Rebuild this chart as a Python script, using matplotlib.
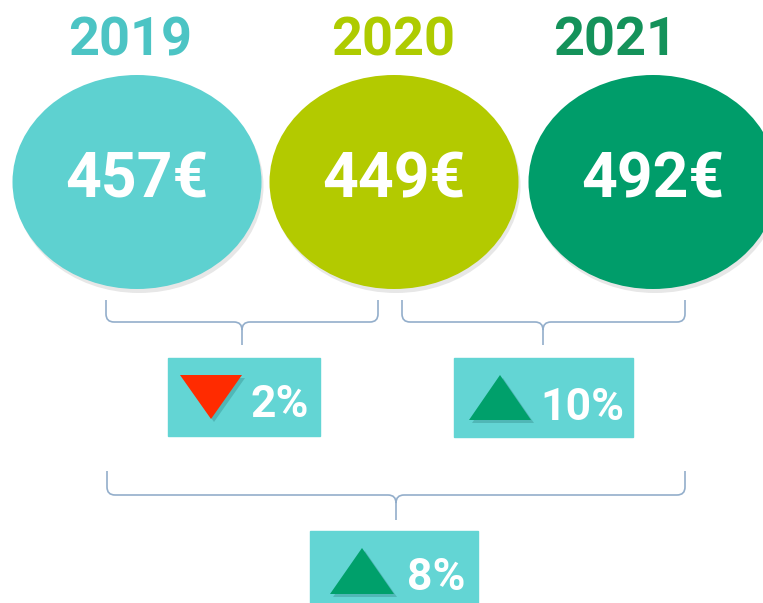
import matplotlib.pyplot as plt
from matplotlib.patches import Ellipse, Rectangle, Polygon, PathPatch
from matplotlib.path import Path

# data
years = ['2019', '2020', '2021']
amounts = [457, 449, 492]
changes = [-2, 10, 8]          # 2019->2020, 2020->2021, 2019->2021

ellipse_colors = ['#5ED1D0', '#B3CA00', '#009D6A']
year_colors = ['#4CC4C4', '#AECB00', '#14925A']
box_color = '#63D5D4'
up_color = '#00A06B'
down_color = '#FF2B00'
brace_color = '#93AECB'

FONT = ['Roboto', 'DejaVu Sans']

# layout (pixel space)
ell_x = [137, 394, 653]
ell_y = 182
ell_w, ell_h = 249, 214
year_x = [130, 393, 615]
brace_specs = [(106, 378, 242, 300, 322, 345),
               (402, 685, 543, 300, 322, 345),
               (107, 685, 396, 471, 495, 520)]
# box x, y, w, h, triangle offset, text gap, text baseline
box_specs = [(168, 358, 152, 78, 12, 8, 417),
             (454, 358, 179, 79, 15, 9, 420),
             (310, 531, 168, 80, 20, 13, 590)]


def brace(ax, x0, x1, xm, yt, yh, yb, r=8):
    verts = [(x0, yt), (x0, yh - r), (x0, yh), (x0 + r, yh),
             (xm - r, yh), (xm, yh), (xm, yh + r), (xm, yb),
             (xm, yh + r), (xm, yh), (xm + r, yh),
             (x1 - r, yh), (x1, yh), (x1, yh - r), (x1, yt)]
    codes = [Path.MOVETO, Path.LINETO, Path.CURVE3, Path.CURVE3,
             Path.LINETO, Path.CURVE3, Path.CURVE3, Path.LINETO,
             Path.MOVETO, Path.CURVE3, Path.CURVE3,
             Path.LINETO, Path.CURVE3, Path.CURVE3, Path.LINETO]
    ax.add_patch(PathPatch(Path(verts, codes), fill=False,
                           edgecolor=brace_color, lw=1.2))


def change_box(ax, spec, value, tri_w, tri_h):
    bx, by, bw, bh, toff, gap, base = spec
    ax.add_patch(Rectangle((bx, by), bw, bh, color=box_color, zorder=2))
    tx = bx + toff
    ty = by + bh / 2
    if value < 0:
        pts = [(tx, ty - tri_h / 2), (tx + tri_w, ty - tri_h / 2), (tx + tri_w / 2, ty + tri_h / 2)]
        col = down_color
    else:
        pts = [(tx, ty + tri_h / 2), (tx + tri_w, ty + tri_h / 2), (tx + tri_w / 2, ty - tri_h / 2)]
        col = up_color
    shadow = [(x + 3, y + 3) for x, y in pts]
    ax.add_patch(Polygon(shadow, color='#2f7f80', alpha=0.35, zorder=3, lw=0))
    ax.add_patch(Polygon(pts, color=col, zorder=4, lw=0))
    ax.text(tx + tri_w + gap, base, f'{abs(value)}%', color='white', fontsize=32,
            fontweight='bold', family=FONT, ha='left', va='baseline', zorder=5)


fig = plt.figure(figsize=(7.63, 6.03), dpi=100)
ax = fig.add_axes([0, 0, 1, 1])
ax.set_xlim(0, 763)
ax.set_ylim(603, 0)
ax.axis('off')

for i in range(3):
    ax.add_patch(Ellipse((ell_x[i] + 2, ell_y + 4), ell_w, ell_h, color='#a0a0a0', alpha=0.25, lw=0))
    ax.add_patch(Ellipse((ell_x[i], ell_y), ell_w, ell_h, color=ellipse_colors[i], lw=0))
    ax.text(ell_x[i], 198, f'{amounts[i]}€', color='white', fontsize=45, fontweight='bold',
            family=FONT, ha='center', va='baseline')
    ax.text(year_x[i], 55, years[i], color=year_colors[i], fontsize=39, fontweight='bold',
            family=FONT, ha='center', va='baseline')

for spec in brace_specs:
    brace(ax, *spec)

change_box(ax, box_specs[0], changes[0], 62, 44)
change_box(ax, box_specs[1], changes[1], 62, 45)
change_box(ax, box_specs[2], changes[2], 64, 46)

fig.savefig('out.png', dpi=100)
